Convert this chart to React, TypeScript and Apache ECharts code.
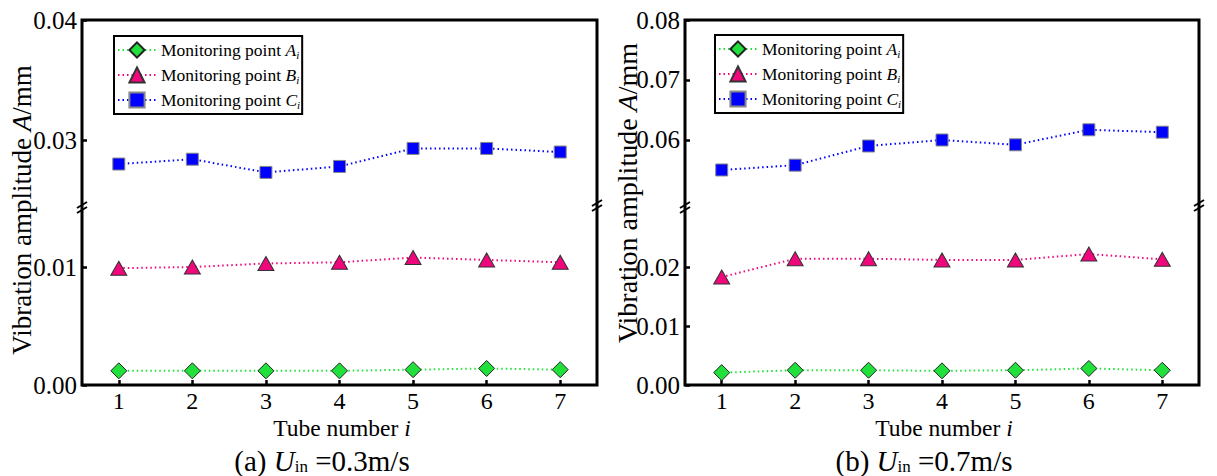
import React, { useEffect, useRef } from "react";
import * as echarts from "echarts";

const categories = ["1", "2", "3", "4", "5", "6", "7"];

// Panel (a) U_in = 0.3 m/s
const aPointA = [0.0012, 0.0012, 0.0012, 0.0012, 0.0013, 0.0014, 0.0013];
const aPointB = [0.0099, 0.01, 0.0103, 0.0104, 0.0108, 0.0106, 0.0104];
const aPointC = [0.028, 0.0284, 0.0273, 0.0278, 0.0293, 0.0293, 0.029];

// Panel (b) U_in = 0.7 m/s
const bPointA = [0.0021, 0.0025, 0.0025, 0.0024, 0.0025, 0.0028, 0.0025];
const bPointB = [0.0183, 0.0214, 0.0214, 0.0212, 0.0212, 0.0222, 0.0213];
const bPointC = [0.055, 0.0558, 0.059, 0.06, 0.0592, 0.0617, 0.0613];

const aUpperTicks = [0.03, 0.04];
const aLowerTicks = [0, 0.01];
const bUpperTicks = [0.06, 0.07, 0.08];
const bLowerTicks = [0, 0.01, 0.02];

const seriesNames = ["A", "B", "C"];

const FONT = "Liberation Serif";
const GREEN = "#22E03C";
const PINK = "#F0077C";
const BLUE = "#0000FF";

const TOP = 20;
const MID = 204;
const BOTTOM = 385;

function buildPanel(
  p: number,
  left: number,
  width: number,
  upperMin: number,
  upperMax: number,
  lowerMax: number,
  upTicks: number[],
  lowTicks: number[],
  A: number[],
  B: number[],
  C: number[]
) {
  const gu = 2 * p;
  const gl = 2 * p + 1;
  const grids = [
    { left, top: TOP, width, height: MID - TOP },
    { left, top: MID, width, height: BOTTOM - MID },
  ];
  const yLabel = {
    fontFamily: FONT,
    fontSize: 25,
    color: "#000",
    margin: 5,
    formatter: (v: number) => v.toFixed(2),
  };
  const xAxes = [
    {
      type: "category",
      gridIndex: gu,
      data: categories,
      show: false,
    },
    {
      type: "category",
      gridIndex: gl,
      data: categories,
      axisLine: { show: false },
      axisTick: {
        show: true,
        inside: true,
        alignWithLabel: true,
        length: 5,
        lineStyle: { color: "#000", width: 2.5 },
      },
      axisLabel: { fontFamily: FONT, fontSize: 24, color: "#000", margin: 4 },
      splitLine: { show: false },
    },
  ];
  const yAxes = [
    {
      type: "value",
      gridIndex: gu,
      min: upperMin,
      max: upperMax,
      axisLine: { show: false },
      splitLine: { show: false },
      axisTick: {
        show: true,
        inside: true,
        length: 5,
        customValues: upTicks,
        lineStyle: { color: "#000", width: 2.5 },
      },
      axisLabel: { ...yLabel, customValues: upTicks },
    },
    {
      type: "value",
      gridIndex: gl,
      min: 0,
      max: lowerMax,
      axisLine: { show: false },
      splitLine: { show: false },
      axisTick: {
        show: true,
        inside: true,
        length: 5,
        customValues: lowTicks,
        lineStyle: { color: "#000", width: 2.5 },
      },
      axisLabel: { ...yLabel, customValues: lowTicks },
    },
  ];
  const dotted = [1.5, 3];
  const series = [
    {
      type: "line",
      name: seriesNames[0],
      xAxisIndex: gl,
      yAxisIndex: gl,
      data: A,
      symbol: "diamond",
      symbolSize: 16,
      itemStyle: { color: GREEN, borderColor: "#222", borderWidth: 1 },
      lineStyle: { color: GREEN, width: 2, type: dotted },
    },
    {
      type: "line",
      name: seriesNames[1],
      xAxisIndex: gl,
      yAxisIndex: gl,
      data: B,
      symbol: "triangle",
      symbolSize: [16, 14],
      itemStyle: { color: PINK, borderColor: "#333", borderWidth: 1 },
      lineStyle: { color: PINK, width: 2, type: dotted },
    },
    {
      type: "line",
      name: seriesNames[2],
      xAxisIndex: gu,
      yAxisIndex: gu,
      data: C,
      symbol: "rect",
      symbolSize: 12,
      itemStyle: { color: BLUE, borderColor: "#888", borderWidth: 1 },
      lineStyle: { color: BLUE, width: 2, type: dotted },
    },
  ];
  return { grids, xAxes, yAxes, series };
}

function breakMark(x: number, y: number) {
  return {
    type: "group",
    z: 100,
    children: [
      {
        type: "rect",
        shape: { x: x - 3, y: y - 2, width: 6, height: 4 },
        style: { fill: "#fff" },
      },
      {
        type: "line",
        shape: { x1: x - 5, y1: y + 1, x2: x + 5, y2: y - 5 },
        style: { stroke: "#000", lineWidth: 2 },
      },
      {
        type: "line",
        shape: { x1: x - 5, y1: y + 6, x2: x + 5, y2: y },
        style: { stroke: "#000", lineWidth: 2 },
      },
    ],
  };
}

function text(x: number, y: number, t: string, size: number, subSize: number, subPad: number, rotate = false) {
  return {
    type: "text",
    x,
    y,
    rotation: rotate ? Math.PI / 2 : 0,
    z: 100,
    style: {
      text: t,
      fontFamily: FONT,
      fontSize: size,
      fill: "#000",
      align: "center",
      verticalAlign: "middle",
      rich: {
        it: { fontFamily: FONT, fontStyle: "italic", fontSize: size, fill: "#000" },
        sub: { fontFamily: FONT, fontSize: subSize, fill: "#000", padding: [subPad, 0, 0, 0] },
      },
    },
  };
}

export default function App() {
  const ref = useRef<HTMLDivElement>(null);
  useEffect(() => {
    document.body.style.margin = "0";
    if (!ref.current) return;
    const chart = echarts.init(ref.current, undefined, { renderer: "svg" });
    const pa = buildPanel(0, 82, 515, 0.02467, 0.04, 0.01534, aUpperTicks, aLowerTicks, aPointA, aPointB, aPointC);
    const pb = buildPanel(1, 685, 514, 0.04933, 0.08, 0.03068, bUpperTicks, bLowerTicks, bPointA, bPointB, bPointC);

    const legendBase = {
      orient: "vertical",
      data: seriesNames,
      itemWidth: 38,
      itemHeight: 19,
      itemGap: 6,
      borderColor: "#000",
      borderWidth: 2,
      padding: [5, 2, 4, 3],
      selectedMode: false,
      formatter: (n: string) => `Monitoring point {it|${n}}{sub|i}`,
      textStyle: {
        fontFamily: FONT,
        fontSize: 17.5,
        lineHeight: 18,
        color: "#000",
        rich: {
          it: { fontFamily: FONT, fontStyle: "italic", fontSize: 17.5, color: "#000" },
          sub: { fontFamily: FONT, fontStyle: "italic", fontSize: 11, color: "#000", padding: [9, 0, 0, 0] },
        },
      },
    };

    chart.setOption({
      animation: false,
      backgroundColor: "#fff",
      grid: [...pa.grids, ...pb.grids],
      xAxis: [...pa.xAxes, ...pb.xAxes],
      yAxis: [...pa.yAxes, ...pb.yAxes],
      series: [...pa.series, ...pb.series],
      legend: [
        { ...legendBase, left: 114, top: 36 },
        { ...legendBase, left: 715, top: 35 },
      ],
      graphic: [
        {
          type: "rect",
          z: 90,
          shape: { x: 82, y: TOP, width: 515, height: BOTTOM - TOP },
          style: { fill: "none", stroke: "#000", lineWidth: 3 },
        },
        {
          type: "rect",
          z: 90,
          shape: { x: 685, y: TOP, width: 514, height: BOTTOM - TOP },
          style: { fill: "none", stroke: "#000", lineWidth: 3 },
        },
        breakMark(82, 207),
        breakMark(597, 205),
        breakMark(685, 207),
        breakMark(1199, 205),
        text(22, 210, "Vibration amplitude {it|A}/mm", 27, 16, 8, true),
        text(627, 193, "Vibration amplitude {it|A}/mm", 28, 16, 8, true),
        text(342, 428, "Tube number {it|i}", 23.5, 16, 8),
        text(944, 428, "Tube number {it|i}", 23.5, 16, 8),
        text(322, 461, "(a) {it|U}{sub|in} =0.3m/s", 29, 17, 11),
        text(924, 461, "(b) {it|U}{sub|in} =0.7m/s", 29, 17, 11),
      ],
    });
    return () => chart.dispose();
  }, []);
  return <div ref={ref} style={{ width: 1217, height: 476 }} />;
}
